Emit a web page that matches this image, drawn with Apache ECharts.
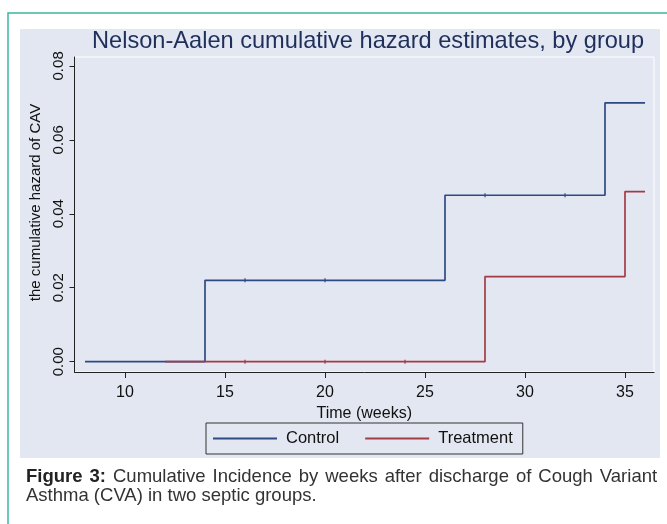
<!DOCTYPE html>
<html>
<head>
<meta charset="utf-8">
<script src="https://cdn.jsdelivr.net/npm/echarts@6/dist/echarts.min.js"></script>
<style>
html,body{margin:0;padding:0;background:#ffffff;}
#chart{width:667px;height:524px;}
</style>
</head>
<body>
<div id="chart"></div>
<script>
// ---- data ----
var controlTimes = [8, 14, 26, 34, 36];
var controlHazard = [0, 0.022, 0.045, 0.070, 0.070];
var treatmentTimes = [12, 28, 35, 36];
var treatmentHazard = [0, 0.023, 0.046, 0.046];
var controlCensorTimes = [16, 20, 28, 32];
var controlCensorHazard = [0.022, 0.022, 0.045, 0.045];
var treatmentCensorTimes = [16, 20, 24];
var treatmentCensorHazard = [0, 0, 0];
var xTicks = [10, 15, 20, 25, 30, 35];
var yTicks = [0, 0.02, 0.04, 0.06, 0.08];
var seriesNames = ['Control', 'Treatment'];
var captionLine1 = ['Cumulative', 'Incidence', 'by', 'weeks', 'after', 'discharge', 'of', 'Cough', 'Variant'];
var captionLine2 = 'Asthma (CVA) in two septic groups.';

function pairs(xs, ys) { return xs.map(function (x, i) { return [x, ys[i]]; }); }

var FONT = "'Liberation Sans', Arial, Helvetica, sans-serif";
var NAVY = '#2d4a84';
var MAROON = '#a33b46';
var AXIS = '#222222';
var CAP = 18.5;

var chart = echarts.init(document.getElementById('chart'), null, {renderer: 'canvas'});
chart.setOption({
  animation: false,
  backgroundColor: '#ffffff',
  textStyle: {fontFamily: FONT},
  graphic: [
    {type: 'rect', z: -10, silent: true,
     shape: {x: 8, y: 13, width: 700, height: 560},
     style: {fill: '#ffffff', stroke: '#3db5a3', lineWidth: 1.5}},
    {type: 'rect', z: -9, silent: true,
     shape: {x: 20, y: 29, width: 640, height: 429},
     style: {fill: '#e2e7f1'}},
    {type: 'text', left: 26, top: 467, z: 5,
     style: {
       text: '{b|Figure}{s| }{b|3:}{s| }' + captionLine1.join('{s| }'),
       font: CAP + 'px ' + FONT, fill: '#333333',
       rich: {
         b: {fontWeight: 'bold', fontSize: CAP, fontFamily: FONT, fill: '#222222'},
         s: {fontSize: CAP, fontFamily: FONT, width: 7}
       }
     }},
    {type: 'text', left: 26, top: 486, z: 5,
     style: {text: captionLine2, font: CAP + 'px ' + FONT, fill: '#333333'}}
  ],
  title: {
    text: 'Nelson-Aalen cumulative hazard estimates, by group',
    left: 92, top: 29, padding: 0,
    textStyle: {fontFamily: FONT, fontSize: 23.6, fontWeight: 'normal', color: '#1f2f5a'}
  },
  legend: {
    data: seriesNames,
    left: 206, top: 423,
    padding: [7, 10, 7, 7],
    itemGap: 26,
    itemWidth: 64, itemHeight: 2,
    icon: 'rect',
    borderColor: '#333333', borderWidth: 1,
    backgroundColor: '#e2e7f1',
    textStyle: {fontFamily: FONT, fontSize: 16.5, color: '#111111', padding: [0, 0, 0, 4]}
  },
  grid: {
    left: 74.5, top: 57, width: 579.5, height: 315,
    show: true, borderColor: '#ffffff', borderWidth: 1, backgroundColor: 'transparent'
  },
  xAxis: {
    type: 'value', min: 7.475, max: 36.45,
    name: 'Time (weeks)', nameLocation: 'middle', nameGap: 19,
    nameTextStyle: {fontFamily: FONT, fontSize: 16, color: '#111111'},
    axisLine: {show: true, onZero: false, lineStyle: {color: AXIS, width: 1}},
    axisTick: {show: true, length: 6, customValues: xTicks, lineStyle: {color: AXIS}},
    axisLabel: {customValues: xTicks, margin: 13, fontFamily: FONT, fontSize: 16, color: '#111111'},
    splitLine: {show: false}
  },
  yAxis: {
    type: 'value', min: -0.0028, max: 0.0824,
    name: 'the cumulative hazard of CAV', nameLocation: 'middle', nameGap: 31, nameRotate: 90,
    nameTextStyle: {fontFamily: FONT, fontSize: 15, color: '#111111', padding: [0, 0, 0, 24]},
    axisLine: {show: true, onZero: false, lineStyle: {color: AXIS, width: 1}},
    axisTick: {show: true, length: 5, customValues: yTicks, lineStyle: {color: AXIS}},
    axisLabel: {customValues: yTicks, rotate: 90, margin: 8, fontFamily: FONT, fontSize: 15, color: '#111111',
      formatter: function (v) { return v.toFixed(2); }},
    splitLine: {show: false}
  },
  series: [
    {name: seriesNames[0], type: 'line', step: 'end', showSymbol: false, symbol: 'none',
     data: pairs(controlTimes, controlHazard),
     lineStyle: {color: NAVY, width: 1.7}, itemStyle: {color: NAVY}, z: 3},
    {name: seriesNames[1], type: 'line', step: 'end', showSymbol: false, symbol: 'none',
     data: pairs(treatmentTimes, treatmentHazard),
     lineStyle: {color: MAROON, width: 1.7}, itemStyle: {color: MAROON}, z: 4},
    {name: 'Control censored', type: 'scatter', symbol: 'rect', symbolSize: [1.5, 4],
     data: pairs(controlCensorTimes, controlCensorHazard),
     itemStyle: {color: NAVY}, z: 5},
    {name: 'Treatment censored', type: 'scatter', symbol: 'rect', symbolSize: [1.5, 4],
     data: pairs(treatmentCensorTimes, treatmentCensorHazard),
     itemStyle: {color: MAROON}, z: 5}
  ]
});
</script>
</body>
</html>
